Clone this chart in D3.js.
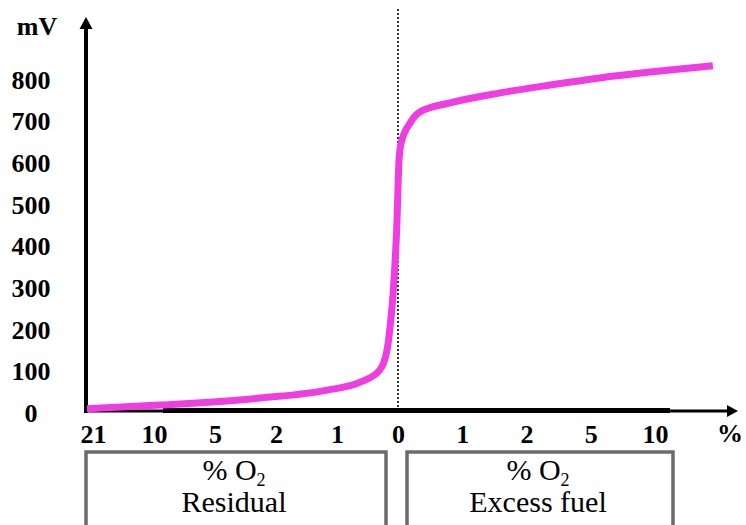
<!DOCTYPE html>
<html>
<head>
<meta charset="utf-8">
<script src="https://cdn.jsdelivr.net/npm/d3@7"></script>
<style>
  body { margin: 0; background: #fff; }
  svg { display: block; font-family: "Liberation Serif", "Times New Roman", Times, "DejaVu Serif", serif; }
</style>
</head>
<body>
<script>
// tick labels of the y axis (mV)
const mvTicks = [0, 100, 200, 300, 400, 500, 600, 700, 800];

// x axis is schematic: residual O2 on the left, excess fuel on the right
const residualLabels = ["21", "10", "5", "2", "1"];
const excessLabels = ["1", "2", "5", "10"];

// curve, x in tick positions (0 = stoichiometric point), y in mV
const curvePos = [-5.1, -3.9, -2.26, -1.16, -0.62, -0.3, -0.18, -0.13, -0.08, -0.02, 0.016, 0.05, 0.19, 0.34, 0.81, 1.59, 2.37, 3.14, 3.92, 4.9];
const curveMv  = [10, 19, 36, 55, 74, 103, 151, 207, 288, 447, 608, 649, 697, 723, 745, 769, 788, 805, 819, 834];

const width = 746, height = 525;
const axisY = 410, axisX = 86;
const magenta = "#ee3ee2";
const serif = "'Liberation Serif', 'Times New Roman', Times, 'DejaVu Serif', serif";

const svg = d3.select("body")
    .append("svg")
    .attr("width", width)
    .attr("height", height);

// scales
const x = d3.scaleLinear()
    .domain([-5, 0, 4])
    .range([93, 398, 655]);

const y = d3.scaleLinear()
    .domain([0, 800])
    .range([413, 80]);

// x tick positions and labels
const xPos = residualLabels.map((d, i) => i - residualLabels.length)
    .concat([0])
    .concat(excessLabels.map((d, i) => i + 1));
const xLab = residualLabels.concat(["0"]).concat(excessLabels);

// dotted line at 0
svg.append("line")
    .attr("x1", x(0)).attr("x2", x(0))
    .attr("y1", 9).attr("y2", axisY)
    .attr("stroke", "#333")
    .attr("stroke-width", 2)
    .attr("stroke-dasharray", "2,2");

// x axis line: thin ends, thick middle
svg.append("line")
    .attr("x1", axisX).attr("x2", 730)
    .attr("y1", axisY + 1).attr("y2", axisY + 1)
    .attr("stroke", "#000")
    .attr("stroke-width", 3);
svg.append("line")
    .attr("x1", 163).attr("x2", 670)
    .attr("y1", axisY + 0.5).attr("y2", axisY + 0.5)
    .attr("stroke", "#000")
    .attr("stroke-width", 5);
svg.append("path")
    .attr("d", `M738,${axisY + 1}L727,${axisY - 5}L727,${axisY + 7}Z`)
    .attr("fill", "#000");

// y axis line with arrow
svg.append("line")
    .attr("x1", axisX).attr("x2", axisX)
    .attr("y1", axisY + 3).attr("y2", 26)
    .attr("stroke", "#000")
    .attr("stroke-width", 4);
svg.append("path")
    .attr("d", `M${axisX},17L${axisX - 6.5},29L${axisX + 6.5},29Z`)
    .attr("fill", "#000");

// y tick labels
const yAxis = svg.append("g")
    .attr("transform", `translate(${axisX},0)`)
    .call(d3.axisLeft(y).tickValues(mvTicks).tickSize(0).tickFormat(d3.format("d")));
yAxis.attr("font-family", null).attr("font-size", null);
yAxis.select(".domain").remove();
yAxis.selectAll("text")
    .attr("x", 31 - axisX)
    .attr("text-anchor", "middle")
    .style("font-family", serif)
    .style("font-size", "26px")
    .style("font-weight", "bold")
    .attr("fill", "#000");

// x tick labels
const xAxis = svg.append("g")
    .attr("transform", `translate(0,${axisY})`)
    .call(d3.axisBottom(x).tickValues(xPos).tickSize(0).tickPadding(15)
        .tickFormat((d, i) => xLab[i]));
xAxis.attr("font-family", null).attr("font-size", null);
xAxis.select(".domain").remove();
xAxis.selectAll("text")
    .style("font-family", serif)
    .style("font-size", "26px")
    .style("font-weight", "bold")
    .attr("fill", "#000");

// axis units
svg.append("text")
    .attr("x", 37).attr("y", 35)
    .attr("text-anchor", "middle")
    .style("font-family", serif)
    .style("font-size", "26px")
    .style("font-weight", "bold")
    .text("mV");
svg.append("text")
    .attr("x", 730).attr("y", 442)
    .attr("text-anchor", "middle")
    .style("font-family", serif)
    .style("font-size", "26px")
    .style("font-weight", "bold")
    .text("%");

// the sensor curve
const line = d3.line()
    .x((d, i) => x(d))
    .y((d, i) => y(curveMv[i]))
    .curve(d3.curveMonotoneX);

svg.append("path")
    .datum(curvePos)
    .attr("fill", "none")
    .attr("stroke", magenta)
    .attr("stroke-width", 7)
    .attr("stroke-linecap", "butt")
    .attr("d", line);

// boxes under the axis
const boxes = [
    { x0: 86, x1: 386, name: "Residual" },
    { x0: 407, x1: 673, name: "Excess fuel" }
];

boxes.forEach(b => {
    svg.append("rect")
        .attr("x", b.x0)
        .attr("y", 452)
        .attr("width", b.x1 - b.x0)
        .attr("height", 100)
        .attr("fill", "none")
        .attr("stroke", "#6b6b6b")
        .attr("stroke-width", 3.5);

    const cx = (b.x0 + b.x1) / 2 - 2;
    const t = svg.append("text")
        .attr("x", cx).attr("y", 480)
        .attr("text-anchor", "middle")
        .style("font-family", serif)
        .style("font-size", "30px");
    t.append("tspan").text("% O");
    t.append("tspan")
        .attr("dy", 6)
        .style("font-size", "18px")
        .text("2");

    svg.append("text")
        .attr("x", cx).attr("y", 512)
        .attr("text-anchor", "middle")
        .style("font-family", serif)
        .style("font-size", "30px")
        .text(b.name);
});
</script>
</body>
</html>
